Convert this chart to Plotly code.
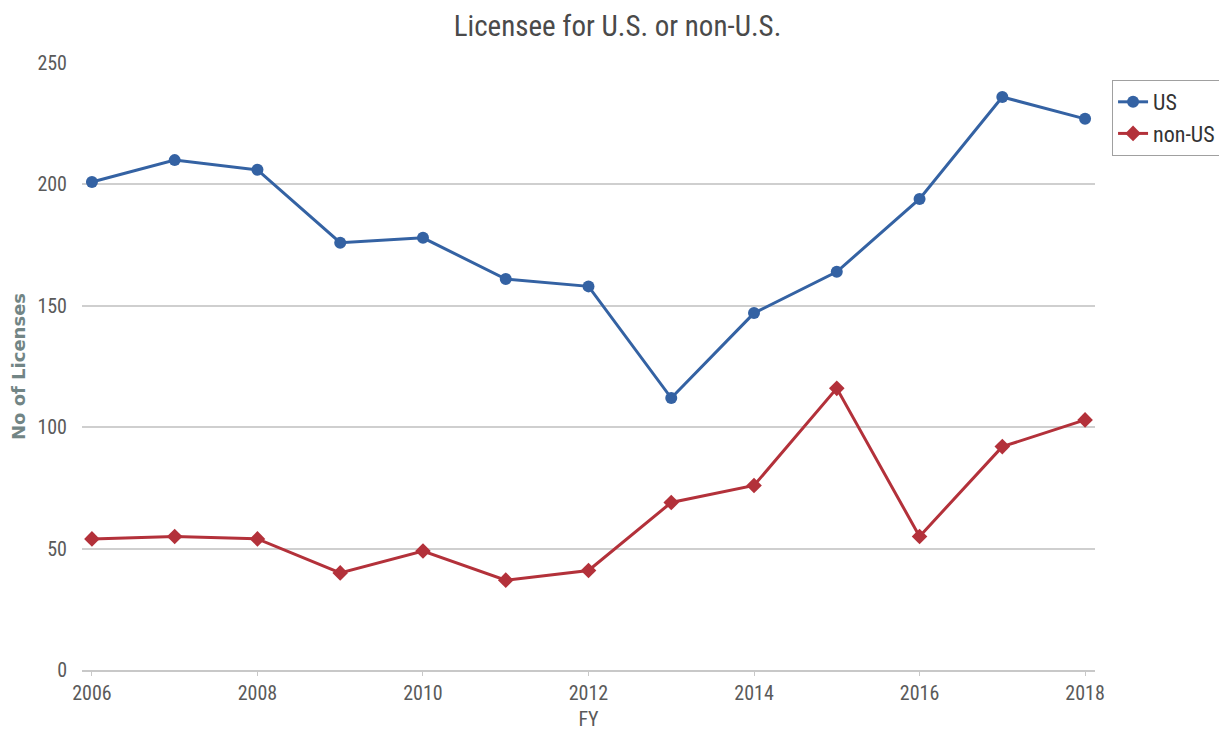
import plotly.graph_objects as go

years = list(range(2006, 2019))
us = [201, 210, 206, 176, 178, 161, 158, 112, 147, 164, 194, 236, 227]
non_us = [54, 55, 54, 40, 49, 37, 41, 69, 76, 116, 55, 92, 103]
x_ticks = [2006, 2008, 2010, 2012, 2014, 2016, 2018]
y_ticks = [0, 50, 100, 150, 200, 250]

cond = "Liberation Sans Narrow, Roboto Condensed, Open Sans, sans-serif"

fig = go.Figure()
fig.add_trace(go.Scatter(x=years, y=us, name="US", mode="lines+markers",
                         line=dict(color="#3462a3", width=3),
                         marker=dict(symbol="circle", size=12, color="#3462a3")))
fig.add_trace(go.Scatter(x=years, y=non_us, name="non-US", mode="lines+markers",
                         line=dict(color="#b3313a", width=3),
                         marker=dict(symbol="diamond", size=12, color="#b3313a")))

fig.update_layout(
    width=1219, height=723,
    margin=dict(l=74, r=132, t=55, b=61),
    paper_bgcolor="white", plot_bgcolor="white",
    title=dict(text="Licensee for U.S. or non-U.S.", x=0.5, xref="container",
               y=0.975, yanchor="middle",
               font=dict(family=cond, size=29, color="#4a4a4a")),
    xaxis=dict(range=[2005.88, 2018.12], tickvals=x_ticks, showgrid=False,
               showline=True, linecolor="#c8c8c8", linewidth=2,
               ticks="outside", tickcolor="#c8c8c8", ticklen=4,
               tickfont=dict(family=cond, size=20, color="#5a5a5a"),
               title=dict(text="FY", font=dict(family=cond, size=20, color="#5a5a5a"), standoff=8),
               zeroline=False, automargin=False),
    yaxis=dict(range=[0, 250], tickvals=y_ticks, showgrid=True, gridcolor="#cfcfcf",
               gridwidth=1.5, zeroline=False, showline=False,
               tickfont=dict(family=cond, size=20, color="#5a5a5a"),
               ticks="outside", ticklen=10, tickcolor="white",
               title=dict(text="No of Licenses",
                          font=dict(family="DejaVu Sans, sans-serif", size=18,
                                    color="#728585", weight="bold"),
                          standoff=12),
               automargin=False),
    legend=dict(x=0.9057, y=0.9004, xref="container", yref="container",
                xanchor="left", yanchor="top",
                bordercolor="#a0a0a0", borderwidth=1, bgcolor="white",
                font=dict(family=cond, size=22, color="#333333")),
    showlegend=True,
)

fig.write_html("out.html")
